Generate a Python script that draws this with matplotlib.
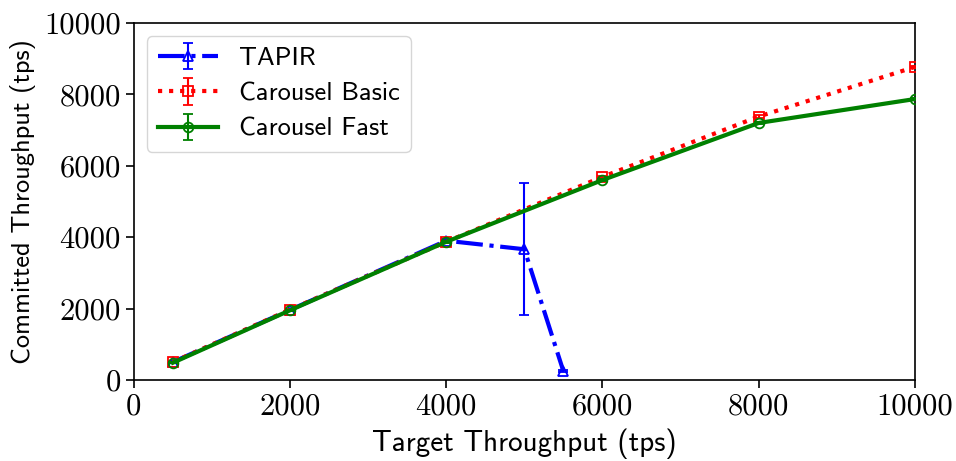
import matplotlib
matplotlib.use("Agg")
import matplotlib.pyplot as plt

tapir_x = [500, 2000, 4000, 5000, 5500]
tapir_y = [500, 1960, 3900, 3660, 240]
tapir_err = [20, 30, 40, 1850, 30]

basic_x = [500, 2000, 4000, 6000, 8000, 10000]
basic_y = [500, 1970, 3870, 5690, 7380, 8770]
basic_err = [10, 20, 30, 30, 30, 30]

fast_x = [500, 2000, 4000, 6000, 8000, 10000]
fast_y = [480, 1950, 3870, 5600, 7200, 7870]
fast_err = [10, 20, 30, 30, 30, 30]

xticks = [0, 2000, 4000, 6000, 8000, 10000]
yticks = [0, 2000, 4000, 6000, 8000, 10000]

plt.rcParams['axes.formatter.use_mathtext'] = True
fig = plt.figure(figsize=(9.56, 4.61), dpi=100)
ax = fig.add_axes([0.140, 0.176, 0.817, 0.774])

common = dict(markersize=7, fillstyle='none', markeredgewidth=1.3,
              capsize=3.8, elinewidth=1.5, capthick=1.5)
ax.errorbar(tapir_x, tapir_y, yerr=tapir_err, color='blue', linestyle='-.', linewidth=3,
            marker='^', label='TAPIR', zorder=2, **common)
ax.errorbar(basic_x, basic_y, yerr=basic_err, color='red', linestyle=':', linewidth=3,
            marker='s', label='Carousel Basic', zorder=3, **common)
ax.errorbar(fast_x, fast_y, yerr=fast_err, color='green', linestyle='-', linewidth=3,
            marker='o', label='Carousel Fast', zorder=4, **common)

ax.set_xlim(0, 10000)
ax.set_ylim(0, 10000)
ax.set_xticks(xticks)
ax.set_yticks(yticks)
ax.set_xticklabels([str(t) for t in xticks], fontfamily='cmr10', fontsize=22)
ax.set_yticklabels([str(t) for t in yticks], fontfamily='cmr10', fontsize=22)
ax.tick_params(length=6, width=1.2)
for s in ax.spines.values():
    s.set_linewidth(1.2)

ax.set_xlabel('Target Throughput (tps)', fontfamily='cmss10', fontsize=21, labelpad=6)
ax.set_ylabel('Committed Throughput (tps)', fontfamily='cmss10', fontsize=19, labelpad=6)

leg = ax.legend(loc='upper left', prop={'family': 'cmss10', 'size': 19},
                handlelength=2.3, framealpha=0.8, labelspacing=0.45)

fig.savefig('out.png', dpi=100)
